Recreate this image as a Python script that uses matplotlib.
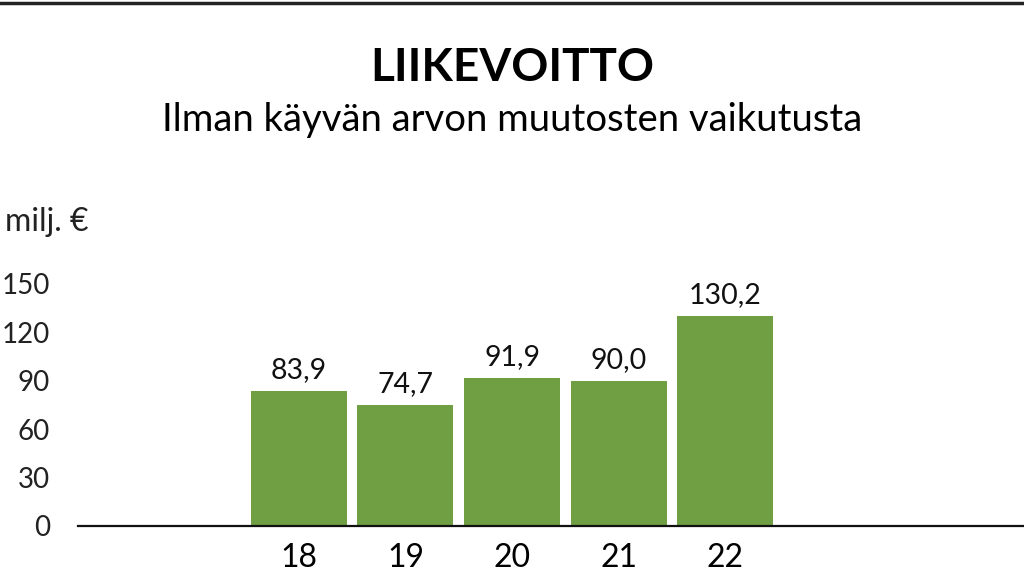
import matplotlib.pyplot as plt
from matplotlib.lines import Line2D

years = ['18', '19', '20', '21', '22']
profit = [83.9, 74.7, 91.9, 90.0, 130.2]
yticks = [0, 30, 60, 90, 120, 150]

plt.rcParams['font.family'] = ['Lato', 'DejaVu Sans']

fig = plt.figure(figsize=(10.24, 5.8), dpi=100)
ax = fig.add_axes([78 / 1024, 54 / 580, 1 - 78 / 1024, 242 / 580])

x = range(len(years))
bars = ax.bar(x, profit, width=0.9, color='#6f9f42')

for b, v in zip(bars, profit):
    ax.text(b.get_x() + b.get_width() / 2, v + 5, f'{v:.1f}'.replace('.', ','),
            ha='center', va='bottom', fontsize=20.5, color='#111111')

ax.set_xlim(-2.07, 6.8)
ax.set_ylim(0, 150)
ax.set_xticks(list(x))
ax.set_xticklabels(years, fontsize=23)
ax.set_yticks(yticks)
ax.set_yticklabels([str(t) for t in yticks], fontsize=20, color='#222222')
ax.tick_params(axis='x', length=0, pad=12)
ax.tick_params(axis='y', length=0, pad=20)

for s in ['top', 'right', 'left']:
    ax.spines[s].set_visible(False)
ax.spines['bottom'].set_linewidth(1.6)
ax.spines['bottom'].set_color('#111111')

fig.text(5 / 1024, 1 - 222 / 580, 'milj. €', fontsize=23, ha='left', va='center', color='#222222')
fig.text(0.5, 1 - 68 / 580, 'LIIKEVOITTO', fontsize=33, fontweight='bold', ha='center', va='center')
fig.text(0.5, 1 - 120 / 580, 'Ilman käyvän arvon muutosten vaikutusta', fontsize=27.5, ha='center', va='center')

fig.add_artist(Line2D([0, 1], [1 - 3 / 580, 1 - 3 / 580], color='#222222', linewidth=2.5))

fig.savefig('out.png', dpi=100)
